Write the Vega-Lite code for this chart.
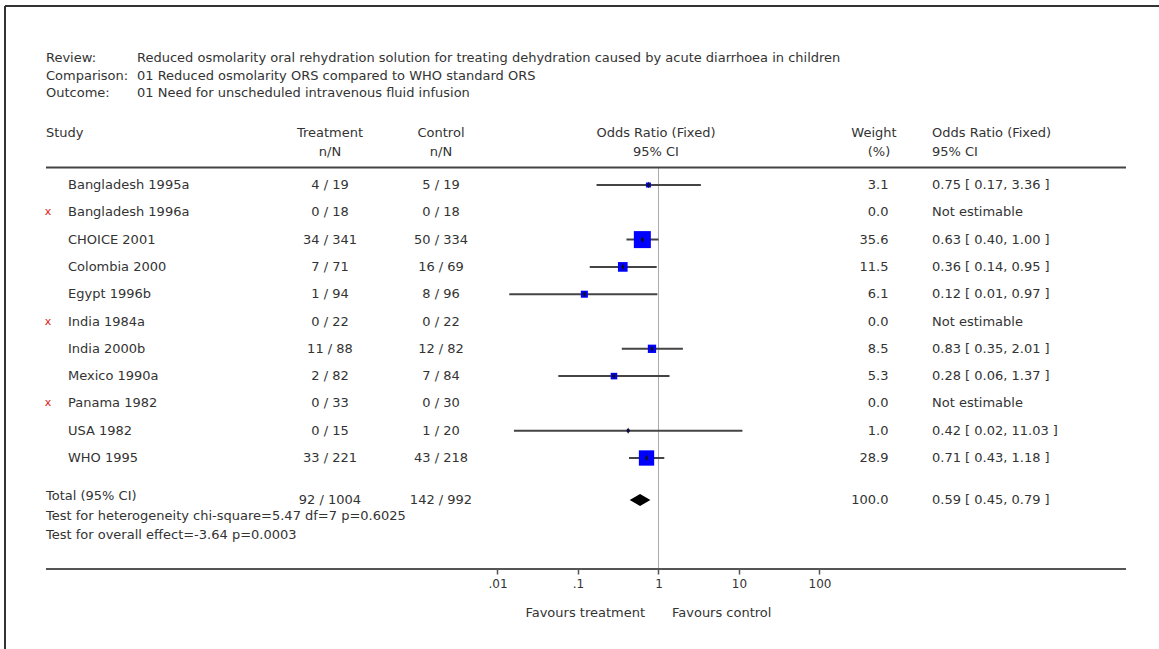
{
  "$schema": "https://vega.github.io/schema/vega-lite/v6.json",
  "width": 1154,
  "height": 563,
  "padding": {"left": 5, "top": 6, "right": 0, "bottom": 80},
  "autosize": {"type": "none"},
  "background": "white",
  "config": {
    "view": {"stroke": null},
    "text": {"font": "DejaVu Sans", "fontSize": 13, "color": "#333", "baseline": "middle"},
    "axisY": {"disable": true}
  },
  "datasets": {
    "doc": [{
      "review": "Reduced osmolarity oral rehydration solution for treating dehydration caused by acute diarrhoea in children",
      "comparison": "01 Reduced osmolarity ORS compared to WHO standard ORS",
      "outcome": "01 Need for unscheduled intravenous fluid infusion",
      "studyHdr": "Study", "treatHdr": "Treatment", "ctrlHdr": "Control", "nN": "n/N",
      "plotHdr": "Odds Ratio (Fixed)", "ci95": "95% CI", "weightHdr": "Weight", "pct": "(%)",
      "favT": "Favours treatment", "favC": "Favours control"
    }],
    "studies": [
      {"study": "Bangladesh 1995a", "order": 1, "treat": "4 / 19", "ctrl": "5 / 19", "weight": 3.1, "est": 0.75, "lo": 0.17, "hi": 3.36, "ci": "0.75 [ 0.17, 3.36 ]", "excluded": false},
      {"study": "Bangladesh 1996a", "order": 2, "treat": "0 / 18", "ctrl": "0 / 18", "weight": 0.0, "est": null, "lo": null, "hi": null, "ci": "Not estimable", "excluded": true},
      {"study": "CHOICE 2001", "order": 3, "treat": "34 / 341", "ctrl": "50 / 334", "weight": 35.6, "est": 0.63, "lo": 0.40, "hi": 1.00, "ci": "0.63 [ 0.40, 1.00 ]", "excluded": false},
      {"study": "Colombia 2000", "order": 4, "treat": "7 / 71", "ctrl": "16 / 69", "weight": 11.5, "est": 0.36, "lo": 0.14, "hi": 0.95, "ci": "0.36 [ 0.14, 0.95 ]", "excluded": false},
      {"study": "Egypt 1996b", "order": 5, "treat": "1 / 94", "ctrl": "8 / 96", "weight": 6.1, "est": 0.12, "lo": 0.014, "hi": 0.97, "ci": "0.12 [ 0.01, 0.97 ]", "excluded": false},
      {"study": "India 1984a", "order": 6, "treat": "0 / 22", "ctrl": "0 / 22", "weight": 0.0, "est": null, "lo": null, "hi": null, "ci": "Not estimable", "excluded": true},
      {"study": "India 2000b", "order": 7, "treat": "11 / 88", "ctrl": "12 / 82", "weight": 8.5, "est": 0.83, "lo": 0.35, "hi": 2.01, "ci": "0.83 [ 0.35, 2.01 ]", "excluded": false},
      {"study": "Mexico 1990a", "order": 8, "treat": "2 / 82", "ctrl": "7 / 84", "weight": 5.3, "est": 0.28, "lo": 0.057, "hi": 1.37, "ci": "0.28 [ 0.06, 1.37 ]", "excluded": false},
      {"study": "Panama 1982", "order": 9, "treat": "0 / 33", "ctrl": "0 / 30", "weight": 0.0, "est": null, "lo": null, "hi": null, "ci": "Not estimable", "excluded": true},
      {"study": "USA 1982", "order": 10, "treat": "0 / 15", "ctrl": "1 / 20", "weight": 1.0, "est": 0.42, "lo": 0.016, "hi": 11.03, "ci": "0.42 [ 0.02, 11.03 ]", "excluded": false},
      {"study": "WHO 1995", "order": 11, "treat": "33 / 221", "ctrl": "43 / 218", "weight": 28.9, "est": 0.71, "lo": 0.43, "hi": 1.18, "ci": "0.71 [ 0.43, 1.18 ]", "excluded": false}
    ],
    "total": [
      {"label": "Total (95% CI)", "treat": "92 / 1004", "ctrl": "142 / 992", "weight": 100.0, "est": 0.59, "lo": 0.45, "hi": 0.79, "ci": "0.59 [ 0.45, 0.79 ]",
       "het": "Test for heterogeneity chi-square=5.47 df=7 p=0.6025", "overall": "Test for overall effect=-3.64 p=0.0003"}
    ]
  },
  "layer": [
    {"data": {"name": "doc"}, "mark": {"type": "rule", "color": "#aaa", "strokeWidth": 1},
     "encoding": {
       "x": {"datum": 1, "type": "quantitative",
             "scale": {"type": "log", "domain": [7.621e-9, 1650000], "nice": false},
             "axis": {"values": [0.01, 0.1, 1, 10, 100],
                      "labelExpr": "datum.value < 0.05 ? '.01' : datum.value < 0.5 ? '.1' : datum.value < 5 ? '1' : datum.value < 50 ? '10' : '100'",
                      "domain": false, "grid": false, "ticks": true, "tickSize": 5, "tickColor": "#555", "tickWidth": 1.5,
                      "labelFont": "DejaVu Sans", "labelFontSize": 12, "labelColor": "#333", "labelPadding": 4, "title": null,
                      "labelFlush": false, "labelOverlap": false}},
       "y": {"datum": 0.359, "type": "quantitative", "scale": {"domain": [-5.557, 15.066], "reverse": true, "nice": false, "zero": false}, "axis": null},
       "y2": {"datum": 15.066}}},
    {"data": {"name": "doc"}, "mark": {"type": "rule", "color": "#333", "strokeWidth": 2},
     "encoding": {
       "x": {"datum": 7.621e-9, "type": "quantitative"},
       "x2": {"datum": 1650000},
       "y": {"datum": -5.557, "type": "quantitative", "axis": null}}},
    {"data": {"name": "doc"}, "mark": {"type": "rule", "color": "#333", "strokeWidth": 2},
     "encoding": {
       "x": {"datum": 7.621e-9, "type": "quantitative"},
       "y": {"datum": -5.557, "type": "quantitative", "axis": null},
       "y2": {"datum": 17.996}}},
    {"data": {"name": "doc"}, "mark": {"type": "rule", "color": "#444", "strokeWidth": 2},
     "encoding": {
       "x": {"datum": 2.461e-8, "type": "quantitative"},
       "x2": {"datum": 642000},
       "y": {"datum": 0.359, "type": "quantitative", "axis": null}}},
    {"data": {"name": "doc"}, "mark": {"type": "rule", "color": "#555", "strokeWidth": 2},
     "encoding": {
       "x": {"datum": 2.461e-8, "type": "quantitative"},
       "x2": {"datum": 642000},
       "y": {"datum": 15.066, "type": "quantitative", "axis": null}}},
    {"data": {"name": "studies"}, "transform": [{"filter": "isValid(datum.lo)"}],
     "mark": {"type": "rule", "color": "#444", "strokeWidth": 2},
     "encoding": {
       "x": {"field": "lo", "type": "quantitative"},
       "x2": {"field": "hi"},
       "y": {"field": "order", "type": "quantitative", "axis": null}}},
    {"data": {"name": "studies"}, "transform": [{"filter": "isValid(datum.est)"}],
     "mark": {"type": "point", "shape": "square", "filled": true, "color": "#0000ff", "opacity": 1},
     "encoding": {
       "x": {"field": "est", "type": "quantitative"},
       "y": {"field": "order", "type": "quantitative", "axis": null},
       "size": {"field": "weight", "type": "quantitative", "scale": {"domain": [0, 35.6], "range": [0, 289]}, "legend": null}}},
    {"data": {"name": "studies"}, "transform": [{"filter": "isValid(datum.est)"}],
     "mark": {"type": "point", "shape": "M0,-1L0.5,0L0,1L-0.5,0Z", "filled": true, "color": "#111", "opacity": 1, "size": 40},
     "encoding": {
       "x": {"field": "est", "type": "quantitative"},
       "y": {"field": "order", "type": "quantitative", "axis": null}}},
    {"data": {"name": "total"},
     "mark": {"type": "point", "shape": "M-1,0L0,-0.58L1,0L0,0.58Z", "filled": true, "color": "#000", "opacity": 1, "size": 424},
     "encoding": {
       "x": {"field": "est", "type": "quantitative"},
       "y": {"datum": 12.538, "type": "quantitative", "axis": null}}},

    {"data": {"name": "studies"}, "mark": {"type": "text", "align": "left"},
     "encoding": {"x": {"datum": 4.619e-8, "type": "quantitative"}, "y": {"field": "order", "type": "quantitative", "axis": null}, "text": {"field": "study"}}},
    {"data": {"name": "studies"}, "transform": [{"filter": "datum.excluded"}], "mark": {"type": "text", "align": "center", "color": "#e02020", "fontSize": 11},
     "encoding": {"x": {"datum": 2.606e-8, "type": "quantitative"}, "y": {"field": "order", "type": "quantitative", "axis": null}, "text": {"value": "x"}}},
    {"data": {"name": "studies"}, "mark": {"type": "text", "align": "center"},
     "encoding": {"x": {"datum": 8.30e-5, "type": "quantitative"}, "y": {"field": "order", "type": "quantitative", "axis": null}, "text": {"field": "treat"}}},
    {"data": {"name": "studies"}, "mark": {"type": "text", "align": "center"},
     "encoding": {"x": {"datum": 1.987e-3, "type": "quantitative"}, "y": {"field": "order", "type": "quantitative", "axis": null}, "text": {"field": "ctrl"}}},
    {"data": {"name": "studies"}, "mark": {"type": "text", "align": "right"},
     "encoding": {"x": {"datum": 719.7, "type": "quantitative"}, "y": {"field": "order", "type": "quantitative", "axis": null}, "text": {"field": "weight", "type": "quantitative", "format": ".1f"}}},
    {"data": {"name": "studies"}, "mark": {"type": "text", "align": "left"},
     "encoding": {"x": {"datum": 2498, "type": "quantitative"}, "y": {"field": "order", "type": "quantitative", "axis": null}, "text": {"field": "ci"}}},

    {"data": {"name": "total"}, "mark": {"type": "text", "align": "left"},
     "encoding": {"x": {"datum": 2.461e-8, "type": "quantitative"}, "y": {"datum": 12.392, "type": "quantitative", "axis": null}, "text": {"field": "label"}}},
    {"data": {"name": "total"}, "mark": {"type": "text", "align": "center"},
     "encoding": {"x": {"datum": 8.30e-5, "type": "quantitative"}, "y": {"datum": 12.538, "type": "quantitative", "axis": null}, "text": {"field": "treat"}}},
    {"data": {"name": "total"}, "mark": {"type": "text", "align": "center"},
     "encoding": {"x": {"datum": 1.987e-3, "type": "quantitative"}, "y": {"datum": 12.538, "type": "quantitative", "axis": null}, "text": {"field": "ctrl"}}},
    {"data": {"name": "total"}, "mark": {"type": "text", "align": "right"},
     "encoding": {"x": {"datum": 719.7, "type": "quantitative"}, "y": {"datum": 12.538, "type": "quantitative", "axis": null}, "text": {"field": "weight", "type": "quantitative", "format": ".1f"}}},
    {"data": {"name": "total"}, "mark": {"type": "text", "align": "left"},
     "encoding": {"x": {"datum": 2498, "type": "quantitative"}, "y": {"datum": 12.538, "type": "quantitative", "axis": null}, "text": {"field": "ci"}}},
    {"data": {"name": "total"}, "mark": {"type": "text", "align": "left"},
     "encoding": {"x": {"datum": 2.461e-8, "type": "quantitative"}, "y": {"datum": 13.125, "type": "quantitative", "axis": null}, "text": {"field": "het"}}},
    {"data": {"name": "total"}, "mark": {"type": "text", "align": "left"},
     "encoding": {"x": {"datum": 2.461e-8, "type": "quantitative"}, "y": {"datum": 13.821, "type": "quantitative", "axis": null}, "text": {"field": "overall"}}},

    {"data": {"name": "doc"}, "mark": {"type": "text", "align": "left"},
     "encoding": {"x": {"datum": 2.461e-8, "type": "quantitative"}, "y": {"datum": -3.670, "type": "quantitative", "axis": null}, "text": {"value": "Review:"}}},
    {"data": {"name": "doc"}, "mark": {"type": "text", "align": "left"},
     "encoding": {"x": {"datum": 3.323e-7, "type": "quantitative"}, "y": {"datum": -3.670, "type": "quantitative", "axis": null}, "text": {"field": "review"}}},
    {"data": {"name": "doc"}, "mark": {"type": "text", "align": "left"},
     "encoding": {"x": {"datum": 2.461e-8, "type": "quantitative"}, "y": {"datum": -3.011, "type": "quantitative", "axis": null}, "text": {"value": "Comparison:"}}},
    {"data": {"name": "doc"}, "mark": {"type": "text", "align": "left"},
     "encoding": {"x": {"datum": 3.323e-7, "type": "quantitative"}, "y": {"datum": -3.011, "type": "quantitative", "axis": null}, "text": {"field": "comparison"}}},
    {"data": {"name": "doc"}, "mark": {"type": "text", "align": "left"},
     "encoding": {"x": {"datum": 2.461e-8, "type": "quantitative"}, "y": {"datum": -2.370, "type": "quantitative", "axis": null}, "text": {"value": "Outcome:"}}},
    {"data": {"name": "doc"}, "mark": {"type": "text", "align": "left"},
     "encoding": {"x": {"datum": 3.323e-7, "type": "quantitative"}, "y": {"datum": -2.370, "type": "quantitative", "axis": null}, "text": {"field": "outcome"}}},

    {"data": {"name": "doc"}, "mark": {"type": "text", "align": "left"},
     "encoding": {"x": {"datum": 2.461e-8, "type": "quantitative"}, "y": {"datum": -0.905, "type": "quantitative", "axis": null}, "text": {"field": "studyHdr"}}},
    {"data": {"name": "doc"}, "mark": {"type": "text", "align": "center"},
     "encoding": {"x": {"datum": 8.30e-5, "type": "quantitative"}, "y": {"datum": -0.905, "type": "quantitative", "axis": null}, "text": {"field": "treatHdr"}}},
    {"data": {"name": "doc"}, "mark": {"type": "text", "align": "center"},
     "encoding": {"x": {"datum": 8.30e-5, "type": "quantitative"}, "y": {"datum": -0.227, "type": "quantitative", "axis": null}, "text": {"field": "nN"}}},
    {"data": {"name": "doc"}, "mark": {"type": "text", "align": "center"},
     "encoding": {"x": {"datum": 1.987e-3, "type": "quantitative"}, "y": {"datum": -0.905, "type": "quantitative", "axis": null}, "text": {"field": "ctrlHdr"}}},
    {"data": {"name": "doc"}, "mark": {"type": "text", "align": "center"},
     "encoding": {"x": {"datum": 1.987e-3, "type": "quantitative"}, "y": {"datum": -0.227, "type": "quantitative", "axis": null}, "text": {"field": "nN"}}},
    {"data": {"name": "doc"}, "mark": {"type": "text", "align": "center"},
     "encoding": {"x": {"datum": 0.93, "type": "quantitative"}, "y": {"datum": -0.905, "type": "quantitative", "axis": null}, "text": {"field": "plotHdr"}}},
    {"data": {"name": "doc"}, "mark": {"type": "text", "align": "center"},
     "encoding": {"x": {"datum": 0.93, "type": "quantitative"}, "y": {"datum": -0.227, "type": "quantitative", "axis": null}, "text": {"field": "ci95"}}},
    {"data": {"name": "doc"}, "mark": {"type": "text", "align": "center"},
     "encoding": {"x": {"datum": 475.4, "type": "quantitative"}, "y": {"datum": -0.905, "type": "quantitative", "axis": null}, "text": {"field": "weightHdr"}}},
    {"data": {"name": "doc"}, "mark": {"type": "text", "align": "center"},
     "encoding": {"x": {"datum": 548, "type": "quantitative"}, "y": {"datum": -0.227, "type": "quantitative", "axis": null}, "text": {"field": "pct"}}},
    {"data": {"name": "doc"}, "mark": {"type": "text", "align": "left"},
     "encoding": {"x": {"datum": 2498, "type": "quantitative"}, "y": {"datum": -0.905, "type": "quantitative", "axis": null}, "text": {"field": "plotHdr"}}},
    {"data": {"name": "doc"}, "mark": {"type": "text", "align": "left"},
     "encoding": {"x": {"datum": 2498, "type": "quantitative"}, "y": {"datum": -0.227, "type": "quantitative", "axis": null}, "text": {"field": "ci95"}}},

    {"data": {"name": "doc"}, "mark": {"type": "text", "align": "right"},
     "encoding": {"x": {"datum": 0.68, "type": "quantitative"}, "y": {"datum": 16.678, "type": "quantitative", "axis": null}, "text": {"field": "favT"}}},
    {"data": {"name": "doc"}, "mark": {"type": "text", "align": "left"},
     "encoding": {"x": {"datum": 1.471, "type": "quantitative"}, "y": {"datum": 16.678, "type": "quantitative", "axis": null}, "text": {"field": "favC"}}}
  ]
}
